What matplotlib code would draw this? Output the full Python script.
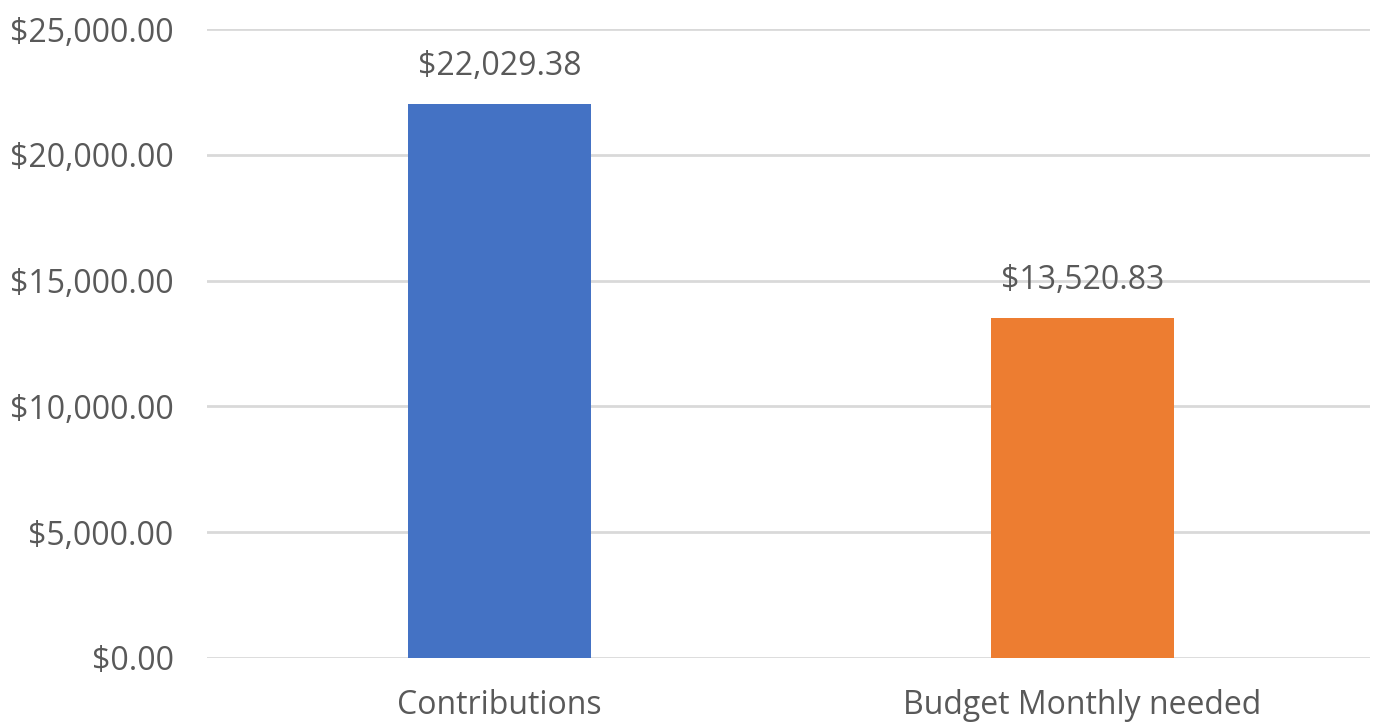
import matplotlib.pyplot as plt

categories = ['Contributions', 'Budget Monthly needed']
values = [22029.38, 13520.83]
bar_colors = ['#4472C4', '#ED7D31']
y_ticks = [0, 5000, 10000, 15000, 20000, 25000]

W, H = 1377, 723
fig = plt.figure(figsize=(W / 100, H / 100), dpi=100)
ax = fig.add_axes([207 / W, 1 - 658 / H, (1370 - 207) / W, (658 - 29) / H])

text_color = '#595959'
fam = ['Open Sans', 'DejaVu Sans']

x = range(len(categories))
bars = ax.bar(x, values, width=0.315, color=bar_colors, zorder=3)

for b, v in zip(bars, values):
    ax.annotate('${:,.2f}'.format(v), (b.get_x() + b.get_width() / 2, v),
                xytext=(0, 15), textcoords='offset points', ha='center', va='bottom',
                fontsize=23, color=text_color, family=fam)

ax.set_xlim(-0.502, 1.493)
ax.set_ylim(0, 25000)
ax.set_yticks(y_ticks)
ax.set_yticklabels(['${:,.2f}'.format(t) for t in y_ticks])
ax.set_xticks(list(x))
ax.set_xticklabels(categories)
ax.grid(axis='y', color='#D9D9D9', linewidth=2, zorder=0)
for s in ax.spines.values():
    s.set_visible(False)
ax.tick_params(axis='both', length=0, labelsize=23, labelcolor=text_color)
ax.tick_params(axis='x', pad=22)
ax.tick_params(axis='y', pad=24)
for lbl in ax.get_xticklabels() + ax.get_yticklabels():
    lbl.set_family(fam)

fig.savefig('out.png', dpi=100)
